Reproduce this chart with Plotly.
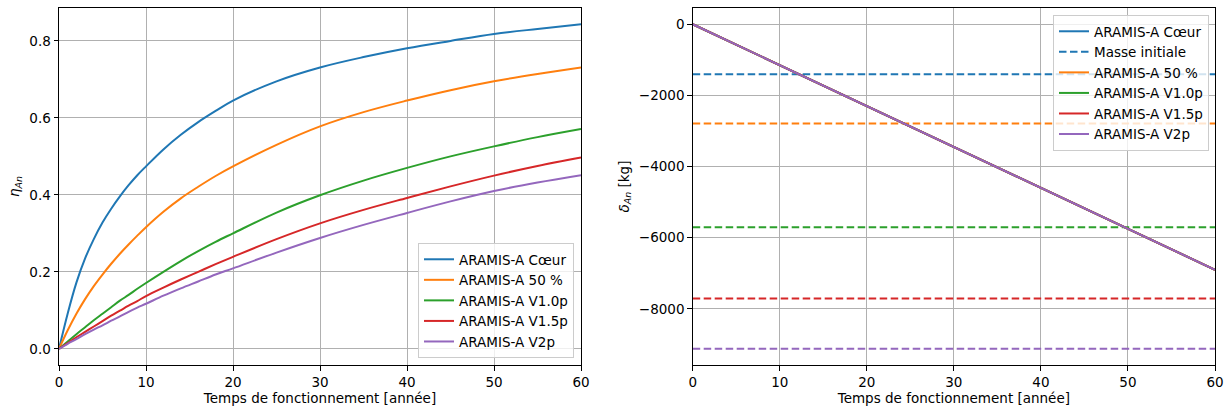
import plotly.graph_objects as go

# Temps de fonctionnement [année]
annees = [0, 1, 2, 3, 4, 5, 6, 7, 8, 9, 10, 12, 14, 16, 18, 20, 25, 30, 35, 40, 45, 50, 55, 60]

# Efficacité eta_An
eta_coeur = [0, 0.092, 0.172, 0.235, 0.285, 0.328, 0.364, 0.396, 0.425, 0.451, 0.474,
             0.518, 0.556, 0.589, 0.618, 0.645, 0.695, 0.731, 0.758, 0.781, 0.800, 0.818, 0.831, 0.843]
eta_50 = [0, 0.048, 0.091, 0.129, 0.163, 0.193, 0.221, 0.247, 0.271, 0.294, 0.316,
          0.356, 0.391, 0.421, 0.449, 0.474, 0.53, 0.578, 0.615, 0.645, 0.672, 0.695, 0.714, 0.731]
eta_v10 = [0, 0.019, 0.038, 0.056, 0.074, 0.091, 0.108, 0.125, 0.14, 0.156, 0.171,
           0.2, 0.228, 0.254, 0.278, 0.30, 0.354, 0.399, 0.437, 0.47, 0.5, 0.526, 0.55, 0.571]
eta_v15 = [0, 0.015, 0.03, 0.044, 0.058, 0.072, 0.086, 0.099, 0.112, 0.124, 0.137,
           0.159, 0.18, 0.2, 0.22, 0.239, 0.285, 0.326, 0.361, 0.392, 0.422, 0.45, 0.475, 0.497]
eta_v2 = [0, 0.013, 0.025, 0.038, 0.05, 0.061, 0.073, 0.084, 0.096, 0.107, 0.117,
          0.138, 0.157, 0.175, 0.193, 0.209, 0.25, 0.288, 0.322, 0.353, 0.383, 0.41, 0.432, 0.451]

# Bilan de masse delta_An [kg] (droite identique pour toutes les configurations)
annees_bilan = [0, 60]
delta_an = [0, -6900]

# Masse initiale [kg] de chaque configuration
masse_initiale = [-1404, -2790, -5702, -7705, -9118]

noms = ["ARAMIS-A Cœur", "ARAMIS-A 50 %", "ARAMIS-A V1.0p", "ARAMIS-A V1.5p", "ARAMIS-A V2p"]
couleurs = ["#1f77b4", "#ff7f0e", "#2ca02c", "#d62728", "#9467bd"]
etas = [eta_coeur, eta_50, eta_v10, eta_v15, eta_v2]

FONT = "DejaVu Sans"
FS = 13.5

fig = go.Figure()

# Graphique de gauche : eta_An
for nom, c, eta in zip(noms, couleurs, etas):
    fig.add_trace(go.Scatter(x=annees, y=eta, name=nom, mode="lines",
                             line=dict(color=c, width=2, shape="spline", smoothing=1),
                             xaxis="x", yaxis="y", legend="legend"))

# Graphique de droite : delta_An + masses initiales
for i, (nom, c, m) in enumerate(zip(noms, couleurs, masse_initiale)):
    fig.add_trace(go.Scatter(x=annees_bilan, y=delta_an, name=nom, mode="lines",
                             line=dict(color=c, width=2), xaxis="x2", yaxis="y2",
                             legend="legend2", legendrank=2 * i))
    fig.add_trace(go.Scatter(x=[annees_bilan[0], annees_bilan[-1]], y=[m, m],
                             name="Masse initiale", mode="lines",
                             line=dict(color=c, width=2, dash="7.5px,3.5px"),
                             xaxis="x2", yaxis="y2", legend="legend2",
                             showlegend=(i == 0), legendrank=2 * i + 1))

axe = dict(showline=True, mirror=True, linecolor="black", linewidth=1,
           ticks="outside", ticklen=4.5, tickwidth=1, tickcolor="black",
           showgrid=True, gridcolor="#b0b0b0", gridwidth=1, zeroline=False,
           automargin=False,
           tickfont=dict(family=FONT, size=FS, color="black"))

titre_x = dict(text="Temps de fonctionnement [année]",
               font=dict(family=FONT, size=FS, color="black"), standoff=3)

fig.update_layout(
    width=1225, height=409,
    margin=dict(l=0, r=0, t=0, b=0),
    plot_bgcolor="white", paper_bgcolor="white",
    font=dict(family=FONT, size=FS, color="black"),
    xaxis=dict(axe, domain=[59 / 1225, 581 / 1225], range=[0, 60], dtick=10, title=titre_x),
    yaxis=dict(axe, domain=[1 - 365 / 409, 1 - 8 / 409], range=[-0.0421, 0.8855],
               dtick=0.2, tickformat=".1f",
               title=dict(text="<i>η</i><sub><i>An</i></sub>",
                          font=dict(family=FONT, size=FS, color="black"), standoff=6)),
    xaxis2=dict(axe, domain=[692.7 / 1225, 1215 / 1225], range=[0, 60], dtick=10,
                anchor="y2", title=titre_x),
    yaxis2=dict(axe, domain=[1 - 365 / 409, 1 - 8 / 409], range=[-9576, 456],
                dtick=2000, anchor="x2",
                title=dict(text="<i>δ</i><sub><i>An</i></sub> [kg]",
                           font=dict(family=FONT, size=FS, color="black"), standoff=6)),
    legend=dict(x=574 / 1225, y=1 - 358 / 409, xanchor="right", yanchor="bottom",
                bgcolor="rgba(255,255,255,0.8)", bordercolor="#cccccc", borderwidth=1,
                font=dict(family=FONT, size=FS, color="black"), itemwidth=30),
    legend2=dict(x=1209 / 1225, y=1 - 15 / 409, xanchor="right", yanchor="top",
                 bgcolor="rgba(255,255,255,0.8)", bordercolor="#cccccc", borderwidth=1,
                 font=dict(family=FONT, size=FS, color="black"), itemwidth=30,
                 traceorder="normal"),
)

# la marge par défaut du <body> décale la figure de 8 px
fig.write_html("out.html", config={"displayModeBar": False},
               post_script="document.body.style.margin='0px';")
